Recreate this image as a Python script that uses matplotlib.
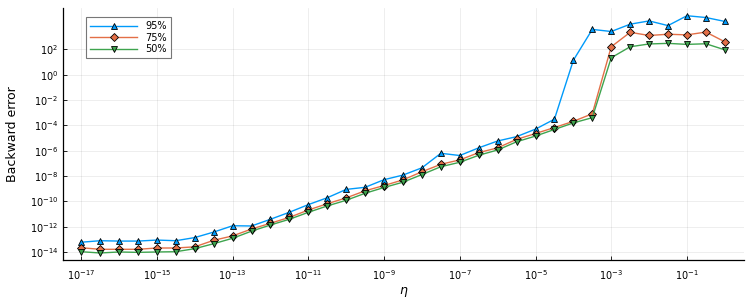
import matplotlib
matplotlib.use("Agg")
import matplotlib.pyplot as plt
import numpy as np

eta = [1e-17, 3.16e-17, 1e-16, 3.16e-16, 1e-15, 3.16e-15, 1e-14, 3.16e-14,
       1e-13, 3.16e-13, 1e-12, 3.16e-12, 1e-11, 3.16e-11, 1e-10, 3.16e-10,
       1e-9, 3.16e-9, 1e-8, 3.16e-8, 1e-7, 3.16e-7, 1e-6, 3.16e-6,
       1e-5, 3.16e-5, 1e-4, 3.16e-4, 1e-3, 3.16e-3, 1e-2, 3.16e-2,
       1e-1, 3.16e-1, 1e0]

err95 = [6.0e-14, 7.9e-14, 7.4e-14, 7.4e-14, 8.9e-14, 7.9e-14, 1.4e-13, 3.8e-13,
         1.2e-12, 1.15e-12, 3.9e-12, 1.4e-11, 5.6e-11, 1.95e-10, 8.9e-10, 1.3e-9,
         5.2e-9, 1.2e-8, 4.5e-8, 6.3e-7, 4.2e-7, 1.7e-6, 5.9e-6, 1.3e-5,
         5.1e-5, 3.1e-4, 14.0, 3800.0, 2600.0, 9800.0, 17800.0, 7600.0,
         45700.0, 33000.0, 16200.0]

err75 = [2.2e-14, 1.66e-14, 1.66e-14, 1.66e-14, 2.1e-14, 2.1e-14, 2.6e-14, 8.5e-14,
         1.9e-13, 6.6e-13, 1.9e-12, 5.5e-12, 2.1e-11, 6.6e-11, 1.9e-10, 6.9e-10,
         1.8e-9, 5.0e-9, 2.2e-8, 8.5e-8, 1.9e-7, 7.1e-7, 1.7e-6, 7.9e-6,
         2.3e-5, 6.8e-5, 2.1e-4, 8.3e-4, 162.0, 2240.0, 1260.0, 1580.0,
         1410.0, 2340.0, 400.0]

err50 = [1.07e-14, 8.5e-15, 1.02e-14, 9.5e-15, 1.02e-14, 1.07e-14, 1.86e-14, 4.6e-14,
         1.23e-13, 4.5e-13, 1.38e-12, 3.9e-12, 1.38e-11, 4.4e-11, 1.23e-10, 4.4e-10,
         1.26e-9, 3.3e-9, 1.32e-8, 5.5e-8, 1.23e-7, 4.4e-7, 1.15e-6, 5.1e-6,
         1.45e-5, 4.8e-5, 1.58e-4, 4.1e-4, 22.0, 162.0, 270.0, 300.0,
         250.0, 280.0, 93.0]

labels = ["95%", "75%", "50%"]
xticks = [1e-17, 1e-15, 1e-13, 1e-11, 1e-9, 1e-7, 1e-5, 1e-3, 1e-1]
yticks = [1e-14, 1e-12, 1e-10, 1e-8, 1e-6, 1e-4, 1e-2, 1e0, 1e2]

colors = ["#009AFA", "#E36F47", "#3EA44E"]
markers = ["^", "D", "v"]
msizes = [5.0, 4.0, 5.0]

fig = plt.figure(figsize=(7.53, 3.01), dpi=100)
ax = fig.add_axes([0.0837, 0.136, 0.904, 0.837])

for y, lab, c, m, ms in zip([err95, err75, err50], labels, colors, markers, msizes):
    ax.plot(eta, y, color=c, lw=1.0, marker=m, ms=ms, markerfacecolor=c,
            markeredgecolor="black", markeredgewidth=0.6, label=lab)

ax.set_xscale("log")
ax.set_yscale("log")
ax.set_xlim(10**-17.48, 10**0.5)
ax.set_ylim(10**-14.63, 10**5.26)
ax.set_xticks(xticks)
ax.set_yticks(yticks)
ax.minorticks_off()
ax.tick_params(direction="in", length=3, width=0.6, labelsize=7, colors="black")
ax.tick_params(axis="x", pad=6)
ax.grid(True, color="black", alpha=0.08, lw=0.6)
for s in ["top", "right"]:
    ax.spines[s].set_visible(False)
for s in ["left", "bottom"]:
    ax.spines[s].set_linewidth(0.9)

ax.set_xlabel(r"$\eta$", fontsize=9, labelpad=2)
ax.set_ylabel("Backward error", fontsize=9, labelpad=8)

leg = ax.legend(loc="upper left", bbox_to_anchor=(0.03, 0.975), fontsize=7,
                frameon=True, fancybox=False, edgecolor="#555555",
                handlelength=4.8, borderpad=0.4, labelspacing=0.15, handletextpad=0.9,
                borderaxespad=0.3)
leg.get_frame().set_linewidth(0.8)

fig.savefig("out.png", dpi=100)
